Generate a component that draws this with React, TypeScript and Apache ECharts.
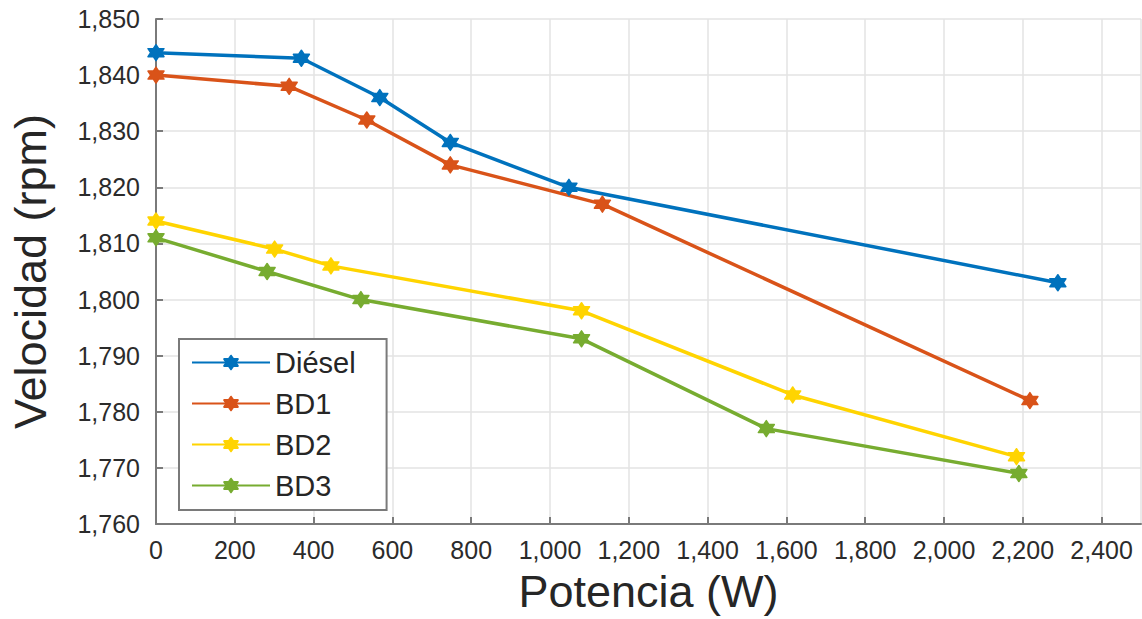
import React, { useEffect, useRef } from "react";
import * as echarts from "echarts";

const seriesNames = ["Diésel", "BD1", "BD2", "BD3"];
const seriesColors = ["#0072BD", "#D95319", "#FFD400", "#77AC30"];

const dieselData: [number, number][] = [
  [0, 1844], [369, 1843], [568, 1836], [747, 1828], [1048, 1820], [2289, 1803],
];
const bd1Data: [number, number][] = [
  [0, 1840], [338, 1838], [535, 1832], [747, 1824], [1133, 1817], [2218, 1782],
];
const bd2Data: [number, number][] = [
  [0, 1814], [301, 1809], [444, 1806], [1080, 1798], [1616, 1783], [2184, 1772],
];
const bd3Data: [number, number][] = [
  [0, 1811], [282, 1805], [520, 1800], [1080, 1793], [1549, 1777], [2190, 1769],
];
const allData = [dieselData, bd1Data, bd2Data, bd3Data];

const xAxisName = "Potencia (W)";
const yAxisName = "Velocidad (rpm)";

const hexagram =
  "path://M50 0 L64.43 25 L93.3 25 L78.87 50 L93.3 75 L64.43 75 L50 100 L35.57 75 L6.7 75 L21.13 50 L6.7 25 L35.57 25 Z";

const fmt = (v: number) => v.toLocaleString("en-US");
const FONT = "'Liberation Sans', Arial, Helvetica, sans-serif";

export default function App() {
  const ref = useRef<HTMLDivElement>(null);
  useEffect(() => {
    if (!ref.current) return;
    const chart = echarts.init(ref.current, undefined, { renderer: "svg" });
    chart.setOption({
      animation: false,
      backgroundColor: "#ffffff",
      textStyle: { fontFamily: FONT },
      grid: { left: 154, top: 19, right: 1, bottom: 95, containLabel: false },
      legend: {
        orient: "vertical",
        left: 179,
        top: 339,
        padding: [9, 31, 10, 12],
        itemWidth: 78,
        itemHeight: 17,
        itemGap: 12,
        backgroundColor: "#ffffff",
        borderColor: "#7a7a7a",
        borderWidth: 2,
        borderRadius: 0,
        textStyle: { fontSize: 29, lineHeight: 29, color: "#262626", fontFamily: FONT },
        data: seriesNames,
      },
      xAxis: {
        type: "value",
        min: 0,
        max: 2500,
        interval: 200,
        name: xAxisName,
        nameLocation: "middle",
        nameGap: 45,
        nameTextStyle: { fontSize: 45, lineHeight: 45, color: "#262626", fontFamily: FONT },
        axisLine: { show: true, onZero: false, lineStyle: { color: "#7a7a7a", width: 2 } },
        axisTick: { show: true, inside: true, length: 7, lineStyle: { color: "#7a7a7a", width: 2 } },
        axisLabel: {
          fontSize: 25,
          color: "#2b2b2b",
          margin: 13,
          showMaxLabel: false,
          formatter: (v: number) => fmt(v),
        },
        splitLine: { show: true, lineStyle: { color: "#e3e3e3", width: 1.5 } },
      },
      yAxis: {
        type: "value",
        min: 1760,
        max: 1850,
        interval: 10,
        name: yAxisName,
        nameLocation: "middle",
        nameGap: 103,
        nameRotate: 90,
        nameTextStyle: { fontSize: 45, lineHeight: 45, color: "#262626", fontFamily: FONT },
        axisLine: { show: true, onZero: false, lineStyle: { color: "#7a7a7a", width: 2 } },
        axisTick: { show: true, inside: true, length: 7, lineStyle: { color: "#7a7a7a", width: 2 } },
        axisLabel: {
          fontSize: 25,
          color: "#2b2b2b",
          margin: 16,
          formatter: (v: number) => fmt(v),
        },
        splitLine: { show: true, lineStyle: { color: "#e3e3e3", width: 1.5 } },
      },
      series: seriesNames.map((name, i) => ({
        name,
        type: "line",
        data: allData[i],
        symbol: hexagram,
        symbolSize: 16,
        showAllSymbol: true,
        clip: false,
        lineStyle: { color: seriesColors[i], width: 3.5 },
        itemStyle: {
          color: seriesColors[i],
          borderColor: seriesColors[i],
          borderWidth: 1.5,
          borderJoin: "round",
        },
        emphasis: { disabled: true },
      })),
    });
    return () => chart.dispose();
  }, []);
  return (
    <div
      ref={ref}
      style={{ position: "fixed", left: 0, top: 0, width: 1142, height: 619, background: "#fff" }}
    />
  );
}
